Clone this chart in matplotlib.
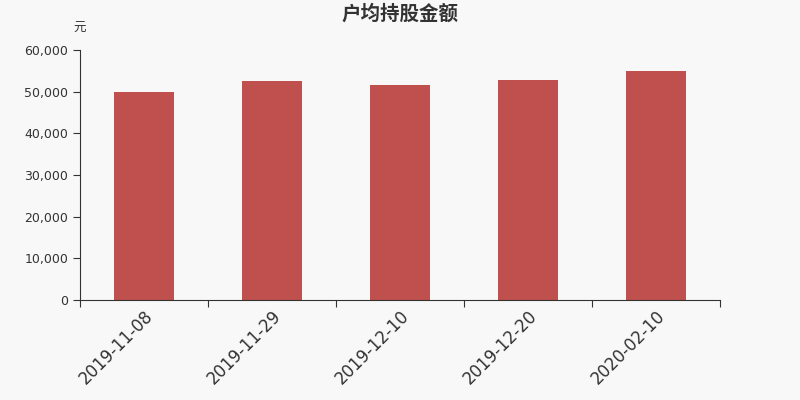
import matplotlib
matplotlib.use('Agg')
import matplotlib.pyplot as plt
import numpy as np

plt.rcParams['font.family'] = ['DejaVu Sans', 'Noto Sans CJK SC']

# Dados
datas = ['2019-11-08', '2019-11-29', '2019-12-10', '2019-12-20', '2020-02-10']
valores = [49900, 52550, 51600, 52800, 54950]

fig = plt.figure(figsize=(8, 4), dpi=100, facecolor='#f8f8f8')
ax = fig.add_axes([0.1, 0.25, 0.8, 0.625], facecolor='#f8f8f8')

x = np.arange(len(datas))
ax.bar(x, valores, width=0.47, color='#c0504d', zorder=2)

ax.set_xlim(-0.5, len(datas) - 0.5)
ax.set_ylim(0, 60000)
ax.set_yticks(np.arange(0, 60001, 10000))
ax.set_yticklabels([f'{int(v):,}' for v in np.arange(0, 60001, 10000)])

# ticks nas fronteiras, rótulos no centro
ax.set_xticks(np.arange(-0.5, len(datas), 1.0))
ax.set_xticklabels([])
ax.set_xticks(x, minor=True)
ax.set_xticklabels(datas, minor=True, rotation=45, ha='right', rotation_mode='anchor',
                   fontsize=12, color='#333333')
ax.tick_params(axis='x', which='minor', length=0, pad=5)
ax.tick_params(axis='x', which='major', length=5, color='#333333')
ax.tick_params(axis='y', length=5, color='#333333', labelsize=9, labelcolor='#333333')

for s in ['top', 'right']:
    ax.spines[s].set_visible(False)
for s in ['left', 'bottom']:
    ax.spines[s].set_color('#333333')

fig.text(0.5, 0.966, '户均持股金额', ha='center', va='center', fontsize=14,
         fontweight='bold', color='#333333', family=['Noto Sans CJK SC', 'DejaVu Sans'])
fig.text(0.1, 0.93, '元', ha='center', va='center', fontsize=9, color='#333333',
         family=['Noto Sans CJK SC', 'DejaVu Sans'])

plt.savefig('out.png', dpi=100, facecolor='#f8f8f8')
